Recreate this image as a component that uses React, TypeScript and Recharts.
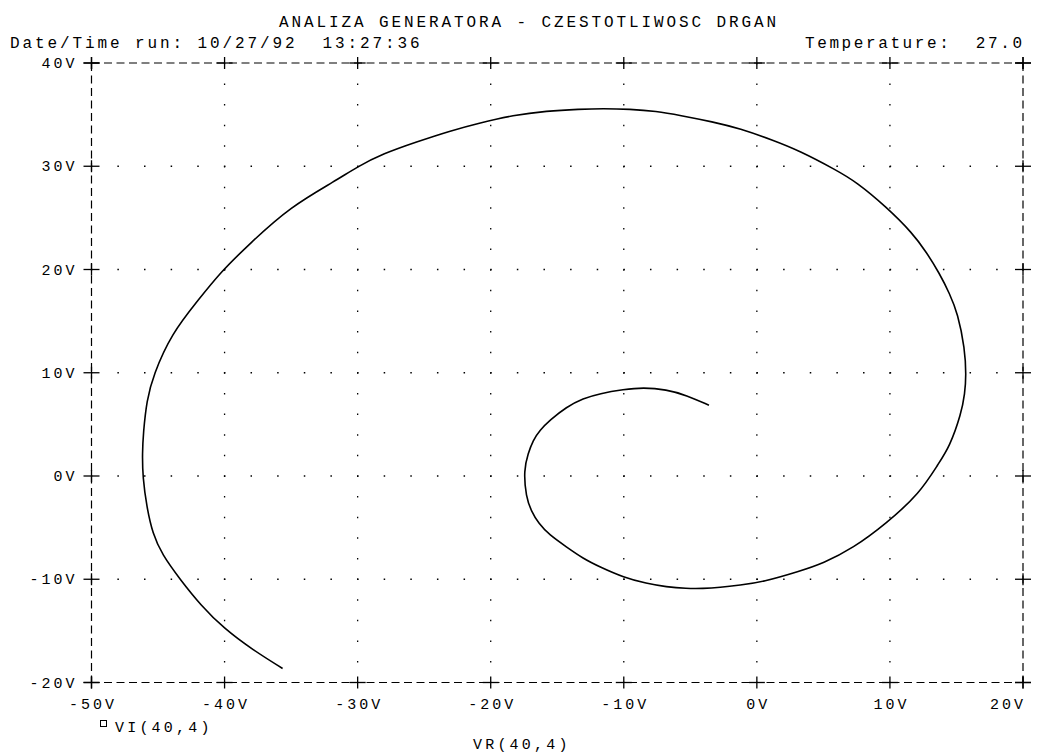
import { LineChart, Line, XAxis, YAxis, ReferenceLine } from 'recharts';

// VR(40,4) on x, VI(40,4) on y, from the inner end of the spiral outwards
const vr = [
    -3.60, -5.30, -6.80, -8.56, -10.0, -11.81, -13.06, -14.31, -15.56, -16.31, -16.82, -17.19, -17.52,
    -17.35, -16.95, -16.40, -15.60, -14.31, -13.06, -11.81, -10.0, -8.30, -6.80, -5.30, -4.05, -2.79,
    -1.29, 0.46, 3.21, 4.96, 7.22, 9.73, 12.23, 13.65, 14.48, 15.36, 15.63, 15.73, 15.63, 15.10, 14.48,
    13.73, 12.73, 11.72, 9.73, 7.47, 5.97, 3.21, 1.21, -1.29, -3.30, -5.80, -7.55, -9.55, -11.56,
    -13.31, -15.81, -18.32, -20.82, -23.07, -25.57, -28.08, -30.04, -31.58, -35.09, -38.10, -40.35,
    -41.98, -43.98, -45.36, -45.85, -46.11, -46.18, -46.15, -45.85, -45.40, -44.70, -43.35, -41.80,
    -40.05, -37.85, -35.64,
];
const vi = [
    6.86, 7.83, 8.38, 8.57, 8.38, 7.99, 7.51, 6.69, 5.40, 4.43, 3.46, 2.18, 0.56,
    -2.02, -3.40, -4.60, -5.70, -6.87, -7.99, -8.80, -9.83, -10.41, -10.74, -10.90, -10.90, -10.80,
    -10.58, -10.26, -9.22, -8.47, -7.00, -4.60, -1.69, 1.21, 2.82, 6.05, 7.99, 9.73, 12.35, 15.74, 17.68,
    19.61, 21.70, 23.49, 26.06, 28.48, 29.62, 31.49, 32.52, 33.66, 34.30, 34.94, 35.33, 35.53, 35.59,
    35.53, 35.36, 34.94, 34.20, 33.42, 32.36, 31.23, 29.94, 28.65, 26.06, 22.52, 19.67,
    17.03, 13.80, 9.76, 7.34, 4.12, 2.18, -0.10, -3.00, -5.60, -7.60, -10.00, -12.50,
    -14.77, -16.87, -18.64,
];
const xTicks = [-50, -40, -30, -20, -10, 0, 10, 20];
const yTicks = [-20, -10, 0, 10, 20, 30, 40];
const xGrid = [-40, -30, -20, -10, 0, 10];
const yGrid = [-10, 0, 10, 20, 30];

const title = 'ANALIZA GENERATORA - CZESTOTLIWOSC DRGAN';
const runInfo = 'Date/Time run: 10/27/92  13:27:36';
const tempInfo = 'Temperature:  27.0';
const seriesName = 'VI(40,4)';
const xName = 'VR(40,4)';

const points = vr.map((x, i) => ({ x, y: vi[i] }));

const font = "'Liberation Mono', 'DejaVu Sans Mono', monospace";
const dash = '8 4.5';
const frame = { stroke: '#000', strokeWidth: 1.2, strokeDasharray: dash };

function Cross({ x, y }: { x: number; y: number }) {
    return (
        <g stroke="#000" strokeWidth={1.3}>
            <line x1={x - 8} x2={x + 8} y1={y} y2={y} />
            <line x1={x} x2={x} y1={y - 6} y2={y + 6} />
        </g>
    );
}

export default function App() {
    return (
        <div style={{ position: 'relative', width: 1039, height: 754 }}>
            <style>{`body{margin:0;overflow:hidden}`}</style>
            <LineChart width={1039} height={754} data={points} margin={{ top: 0, right: 0, bottom: 0, left: 0 }}>
                <XAxis
                    xAxisId="b" dataKey="x" type="number" domain={[-50, 20]} allowDataOverflow ticks={xTicks} interval={0}
                    height={71.5} tickSize={0} tickMargin={0} axisLine={frame}
                    tick={(p: any) => {
                        const last = p.payload.value === xTicks[xTicks.length - 1];
                        return (
                            <g key={p.index}>
                                <Cross x={p.x} y={p.y} />
                                <text x={last ? p.x + 3 : p.x + 1.5} y={p.y + 26} textAnchor={last ? 'end' : 'middle'}
                                    fontFamily={font} fontSize={15} letterSpacing={3} fill="#000">
                                    {p.payload.value + 'V'}
                                </text>
                            </g>
                        );
                    }}
                />
                <XAxis
                    xAxisId="t" dataKey="x" orientation="top" type="number" domain={[-50, 20]} allowDataOverflow ticks={xTicks} interval={0}
                    height={63} tickSize={0} tickMargin={0} axisLine={frame}
                    tick={(p: any) => <Cross key={p.index} x={p.x} y={p.y} />}
                />
                <YAxis
                    yAxisId="l" dataKey="y" type="number" domain={[-20, 40]} allowDataOverflow ticks={yTicks} interval={0}
                    width={91.5} tickSize={0} tickMargin={0} axisLine={frame}
                    tick={(p: any) => (
                        <g key={p.index}>
                            <Cross x={p.x} y={p.y} />
                            <text x={p.x - 14} y={p.y + 5} textAnchor="end" fontFamily={font} fontSize={15} letterSpacing={3} fill="#000">
                                {p.payload.value + 'V'}
                            </text>
                        </g>
                    )}
                />
                <YAxis
                    yAxisId="r" dataKey="y" orientation="right" type="number" domain={[-20, 40]} allowDataOverflow ticks={yTicks} interval={0}
                    width={16} tickSize={0} tickMargin={0} axisLine={frame}
                    tick={(p: any) => <Cross key={p.index} x={p.x} y={p.y} />}
                />
                {yGrid.map(v => (
                    <ReferenceLine key={'h' + v} xAxisId="b" yAxisId="l" y={v} stroke="#000" strokeWidth={1.3}
                        strokeDasharray="1.5 25.13" strokeDashoffset={0.75} />
                ))}
                {xGrid.map(v => (
                    <ReferenceLine key={'v' + v} xAxisId="b" yAxisId="l" x={v} stroke="#000" strokeWidth={1.3}
                        strokeDasharray="1.5 19.13" strokeDashoffset={0.75} />
                ))}
                <Line
                    xAxisId="t" yAxisId="r" dataKey="y" type="linear"
                    stroke="none" dot={false} activeDot={false} isAnimationActive={false}
                />
                <Line
                    xAxisId="b" yAxisId="l" dataKey="y" type="basis"
                    stroke="#000" strokeWidth={1.6} dot={false} activeDot={false}
                    isAnimationActive={false}
                />
            </LineChart>
            <svg width={1039} height={754} style={{ position: 'absolute', left: 0, top: 0, pointerEvents: 'none' }}>
                <g fontFamily={font} fill="#000">
                    <text xmlSpace="preserve" x={279} y={27} fontSize={16} letterSpacing={2.9}>{title}</text>
                    <text xmlSpace="preserve" x={10} y={48} fontSize={16} letterSpacing={2.9}>{runInfo}</text>
                    <text xmlSpace="preserve" x={805} y={48} fontSize={16} letterSpacing={2.6}>{tempInfo}</text>
                    <rect x={100.5} y={720.5} width={6} height={6} fill="none" stroke="#000" strokeWidth={1} />
                    <text x={115} y={732} fontSize={15} letterSpacing={3.2}>{seriesName}</text>
                    <text x={473} y={749} fontSize={15} letterSpacing={3.2}>{xName}</text>
                </g>
            </svg>
        </div>
    );
}
